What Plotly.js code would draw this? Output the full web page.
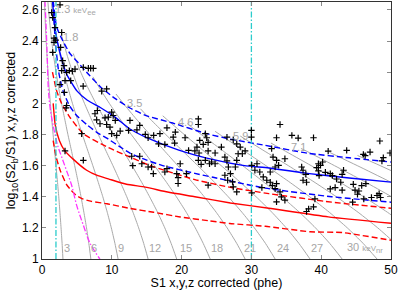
<!DOCTYPE html>
<html><head><meta charset="utf-8">
<script src="https://cdn.plot.ly/plotly-3.0.1.min.js"></script>
<style>html,body{margin:0;padding:0;background:#fff}#chart{width:399px;height:290px}</style>
</head><body><div id="chart"></div>
<script>
// ---------- data ----------
const xTicks = [0,10,20,30,40,50];
const yTicks = [1,1.2,1.4,1.6,1.8,2,2.2,2.4,2.6];
const yTickText = ['1','1.2','1.4','1.6','1.8','2','2.2','2.4','2.6'];
const xRange = [0,50];
const yRange = [1,2.651];

// constant-energy contours: S1 read at common log10(S2/S1) levels, last point = upper end
const grayLevels = [1.0,1.1,1.2,1.3,1.4,1.5,1.6,1.7,1.8,1.9,2.0,2.1,2.2,2.3,2.4,2.5,2.6,2.65];
const grayS1 = [
 [3.0,2.88,2.73,2.57,2.40,2.21,2.00,1.80,1.59,1.39,1.20,1.02,0.86,0.72,0.60,0.49,0.40,0.36],
 [7.0,6.71,6.38,6.00,5.59,5.15,4.68,4.20,3.71,3.25,2.80,2.39,2.01,1.68,1.39,1.15,0.94,0.85],
 [10.9,10.45,9.93,9.35,8.71,8.01,7.28,6.53,5.78,5.05,4.36,3.72,3.14,2.62,2.17,1.79,1.46,1.32],
 [15.2,14.57,13.85,13.04,12.14,11.17,10.16,9.11,8.06,7.05,6.08,5.18,4.37,3.66,3.03,2.86],
 [19.3,18.5,17.59,16.56,15.41,14.19,12.89,11.57,10.24,8.95,7.72,6.58,5.55,4.64,4.48],
 [24.1,23.1,21.96,20.67,19.25,17.72,16.1,14.44,12.79,11.17,9.64,8.22,7.30],
 [29.1,27.9,26.52,24.96,23.24,21.39,19.44,17.44,15.44,13.49,11.64,10.6],
 [33.4,32.02,30.43,28.65,26.68,24.55,22.31,20.02,17.72,15.48,14.1],
 [38.4,36.81,34.99,32.94,30.67,28.23,25.66,23.01,20.37,17.8,17.3],
 [43,41.22,39.18,36.89,34.34,31.61,28.73,25.77,22.81,20.8],
 [48,46.01,43.74,41.17,38.34,35.28,32.07,28.77,25.46,24.8],
 [52.8,50.6,48.1,45.29,42.17,38.81,35.28,31.64,28.4],
 [57.7,55.3,52.58,49.5,46.08,42.42,38.55,34.58,32.8],
 [62.7,60.1,57.13,53.78,50.08,46.09,41.89,37.58,37.1],
 [67.6,64.8,61.6,57.99,53.99,49.69,45.16,41.2],
 [72.5,69.5,66.06,62.19,57.9,53.3,48.44,45.2]
];
const grayTopY = [2.65,2.65,2.65,2.43,2.32,2.17,2.06,1.965,1.92,1.87,1.82,1.79,1.745,1.71,1.685,1.665];

// ER band (blue)
const erMedS1 = [1.5,1.9,2.6,3.5,5.0,6.5,8.3,10.5,12.6,15.0,19.6,24.4,29,32.5,38,44,50];
const erMedY  = [2.66,2.47,2.32,2.19,2.08,2.02,1.975,1.91,1.835,1.78,1.70,1.64,1.60,1.585,1.55,1.52,1.494];
const erHiS1 = [1.6,2.1,3.0,4.0,5.2,6.8,8.5,10.5,12.6,15.0,18.6,23.6,27,32,38,44,50];
const erHiY  = [2.66,2.49,2.40,2.32,2.26,2.18,2.10,2.03,1.97,1.92,1.875,1.805,1.77,1.73,1.68,1.65,1.623];
const erLoS1 = [1.6,1.9,2.4,3.0,4.0,5.0,6.5,7.8,9.5,11.2,12.6,15,17.3,21.9,24.5,32,41.5,50];
const erLoY  = [2.66,2.40,2.20,2.08,1.98,1.92,1.86,1.815,1.77,1.72,1.68,1.635,1.60,1.55,1.525,1.455,1.40,1.365];
// NR band (red)
const nrMedS1 = [1.6,1.9,2.5,3.2,4.5,6.4,8.0,9.5,12.1,14.8,18,21.9,27,32.5,41,50];
const nrMedY  = [2.0,1.86,1.76,1.70,1.64,1.57,1.535,1.515,1.48,1.462,1.43,1.40,1.36,1.326,1.271,1.23];
const nrHiS1 = [1.5,2.1,2.8,4.0,5.9,9.3,12.6,15.5,21.9,27,32.5,41.5,50];
const nrHiY  = [2.2,2.08,2.0,1.91,1.805,1.72,1.655,1.60,1.51,1.46,1.42,1.365,1.326];
const nrLoS1 = [1.6,2.0,2.6,3.5,4.2,5.0,5.9,7.1,9.3,12.6,16,19.8,24,26.9,32,38.4,43,50];
const nrLoY  = [1.76,1.66,1.57,1.48,1.44,1.405,1.385,1.37,1.355,1.325,1.30,1.27,1.245,1.228,1.21,1.175,1.17,1.12];
// S2 threshold (magenta)
const thrS1 = [0.42,0.6,0.75,0.9,1.15,1.5,1.86,2.3,2.82,3.5,4.2,5.0,5.9,6.9,8.3];
const thrY  = [2.66,2.48,2.3,2.1,1.975,1.88,1.8,1.72,1.655,1.57,1.48,1.34,1.22,1.1,1.0];
// S1 analysis window (cyan)
const cutS1 = [2,30];

// events
const evS1 = [2.58,1.38,1.53,1.86,1.72,1.96,1.72,1.53,2.82,2.67,2.96,3.15,2.82,3.53,3.92,4.35,4.73,4.11,3.3,3.53,3.44,5.92,6.64,6.97,7.35,8.55,9.26,7.93,7.59,7.83,8.31,9.03,9.5,9.26,9.74,9.98,10.2,10.5,9.98,10.7,11.2,12.4,12.6,13.6,14.0,14.8,5.68,5.92,3.3,12.85,13.0,14.0,14.3,15.2,2.58,5.9,3.2,
 22.4,22.4,17.9,16.9,16.0,15.2,19.1,18.8,19.0,20.5,22.6,23.4,23.6,23.8,23.1,22.2,21.9,22.5,21.0,19.8,20.7,19.3,19.5,17.9,17.6,15.7,15.95,16.7,17.6,22.4,22.8,23.4,24.0,24.8,24.3,25.7,26.2,26.5,26.7,27.0,26.2,26.6,27.3,27.7,27.9,28.1,28.7,27.9,29.1,28.4,30.0,30.0,30.05,30.8,30.5,31.2,31.7,31.5,30.05,27.9,27.4,23.8,24.8,26.5,27.4,19.5,23.8,
 34.1,33.6,35.8,36.7,38.9,43.65,46.04,46.3,47.0,48.4,49.86,48.9,48.7,32.9,33.1,33.6,33.4,33.9,32.7,32.2,32.7,33.0,33.6,34.1,33.4,34.3,33.6,34.8,34.8,37.2,37.4,37.8,37.4,37.9,39.6,39.9,39.35,40.2,39.6,39.7,40.6,41.3,41.6,42.2,42.8,42.0,43.2,43.0,44.6,44.85,45.4,45.8,46.4,45.2,47.2,48.0,48.5,48.3,38.2,37.9,38.9,39.1,41.3,43.0,44.5,46.1,41.0];
const evY = [2.633,2.583,2.551,2.487,2.419,2.406,2.391,2.327,2.455,2.359,2.274,2.242,2.21,2.199,2.21,2.206,2.22,2.146,2.146,1.986,1.971,2.231,2.225,2.225,2.225,2.078,2.093,1.954,1.933,1.894,1.869,1.907,1.911,1.864,1.847,1.943,1.922,1.89,1.805,1.794,1.822,1.826,1.89,1.83,1.858,1.80,1.805,1.634,1.694,1.66,1.60,1.66,1.612,1.591,2.12,2.11,2.07,
 1.90,1.864,1.843,1.805,1.794,1.779,1.815,1.783,1.745,1.779,1.762,1.805,1.779,1.749,1.736,1.719,1.694,1.681,1.698,1.612,1.548,1.548,1.523,1.58,1.559,1.591,1.548,1.74,1.736,1.634,1.608,1.634,1.612,1.612,1.623,1.719,1.655,1.63,1.591,1.548,1.538,1.506,1.495,1.591,1.634,1.676,1.676,1.74,1.694,1.719,1.826,1.783,1.602,1.612,1.57,1.559,1.527,1.459,1.425,1.431,1.463,1.694,1.681,1.783,1.766,1.485,1.474,
 1.864,1.779,1.794,1.777,1.779,1.698,1.672,1.664,1.687,1.758,1.681,1.651,1.63,1.709,1.655,1.634,1.591,1.602,1.559,1.506,1.493,1.472,1.484,1.431,1.452,1.399,1.367,1.378,1.644,1.591,1.57,1.544,1.506,1.493,1.612,1.602,1.587,1.623,1.566,1.536,1.557,1.548,1.536,1.514,1.493,1.459,1.57,1.544,1.48,1.442,1.437,1.472,1.484,1.416,1.395,1.408,1.395,1.42,1.322,1.305,1.335,1.386,1.45,1.442,1.365,1.386,1.693];

// contour labels
const eeText = ['1.3 <span style="font-size:8px">keV</span><sub>ee</sub>','1.8','3.5','4.6','5.9','7.1'];
const eeX = [1.75,4.15,13.2,20.5,28.4,36.8];
const eeY = [2.60,2.424,2.0,1.879,1.787,1.717];
const nrText = ['3','6','9','12','15','18','21','24','27','30 <span style="font-size:8px">keV</span><sub>nr</sub>'];
const nrX = [3.65,7.5,11.3,16.2,20.7,25.0,29.8,34.5,39.35,43.5];
const nrY = [1.069,1.069,1.069,1.069,1.069,1.069,1.069,1.069,1.069,1.069];

// ---------- traces ----------
const traces = [];
const GRAY = '#a9a9a9';
grayS1.forEach((s, i) => {
  traces.push({x: s, y: grayLevels.slice(0, s.length - 1).concat([grayTopY[i]]),
    mode: 'lines', line: {color: GRAY, width: 1, shape: 'spline', smoothing: 0.6},
    hoverinfo: 'skip', showlegend: false});
});
const band = (x, y, color, dash) => ({x, y, mode: 'lines',
  line: {color, width: 1.4, dash, shape: 'spline', smoothing: 0.5}, hoverinfo: 'skip', showlegend: false});
traces.push(band(nrLoS1, nrLoY, '#ff0000', '6px,3px'));
traces.push(band(nrHiS1, nrHiY, '#ff0000', '6px,3px'));
traces.push(band(nrMedS1, nrMedY, '#ff0000', 'solid'));
traces.push(band(erLoS1, erLoY, '#0000ff', '6px,3px'));
traces.push(band(erHiS1, erHiY, '#0000ff', '6px,3px'));
traces.push(band(erMedS1, erMedY, '#0000ff', 'solid'));
traces.push({x: thrS1, y: thrY, mode: 'lines',
  line: {color: '#ff33ff', width: 1.3, dash: '6px,2px,1.5px,2px', shape: 'spline'}, hoverinfo: 'skip', showlegend: false});
cutS1.forEach(c => traces.push({x: [c, c], y: yRange, mode: 'lines',
  line: {color: '#2ccccc', width: 1.3, dash: '6px,2px,1.5px,2px'}, hoverinfo: 'skip', showlegend: false}));
traces.push({x: evS1, y: evY, mode: 'markers',
  marker: {symbol: 'cross-thin', size: 4.6, color: '#000', line: {color: '#000', width: 1.2}},
  hoverinfo: 'skip', showlegend: false});

const annotations = [];
const labelFont = {family: 'Liberation Sans, Arial, sans-serif', size: 11, color: '#a6a6a6'};
eeText.forEach((t, i) => annotations.push({x: eeX[i], y: eeY[i], text: t, showarrow: false,
  xanchor: i === 0 ? 'left' : 'center', yanchor: 'middle', font: labelFont, borderpad: 0}));
nrText.forEach((t, i) => annotations.push({x: nrX[i], y: nrY[i], text: t, showarrow: false,
  xanchor: i === nrText.length - 1 ? 'left' : 'center', yanchor: 'middle', font: labelFont, borderpad: 0}));

const axisCommon = {ticks: 'inside', ticklen: 4, tickcolor: '#8a8a8a', tickwidth: 1,
  showline: true, linecolor: '#333', linewidth: 1, mirror: 'ticks',
  showgrid: false, zeroline: false, tickfont: {size: 12, color: '#000'}};

const layout = {
  width: 399, height: 290,
  margin: {l: 42, r: 8, t: 2, b: 31, pad: 0},
  paper_bgcolor: '#fff', plot_bgcolor: '#fff', showlegend: false,
  font: {family: 'Liberation Sans, Arial, sans-serif', size: 12, color: '#000'},
  xaxis: Object.assign({}, axisCommon, {range: xRange, tickmode: 'array', tickvals: xTicks,
    title: {text: 'S1 x,y,z corrected (phe)', font: {size: 12.5}, standoff: 2}}),
  yaxis: Object.assign({}, axisCommon, {range: yRange, tickmode: 'array', tickvals: yTicks, ticktext: yTickText,
    title: {text: 'log<sub>10</sub>(S2<sub>b</sub>/S1) x,y,z corrected', font: {size: 12.5}, standoff: 3}}),
  annotations
};

Plotly.newPlot('chart', traces, layout, {displayModeBar: false, staticPlot: true});
</script></body></html>
